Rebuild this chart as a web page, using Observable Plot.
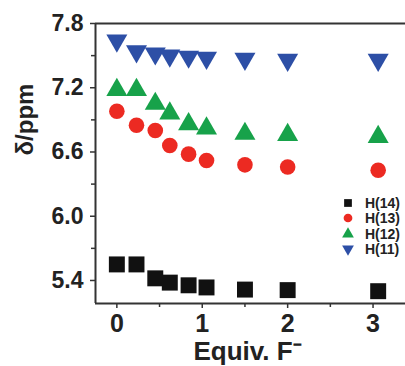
<!DOCTYPE html>
<html><head><meta charset="utf-8">
<script src="https://cdn.jsdelivr.net/npm/d3@7"></script>
<script src="https://cdn.jsdelivr.net/npm/@observablehq/plot@0.6"></script>
<style>
html,body{margin:0;padding:0;background:#fff;}
#wrap{position:relative;width:405px;height:366px;overflow:hidden;}
#legend{position:absolute;left:341px;top:195px;font-family:"Liberation Sans",Arial,sans-serif;font-weight:bold;font-size:14px;color:#222;}
#legend div{height:15.5px;display:flex;align-items:center;}
#legend svg{width:14px;height:14px;margin-right:10px;}
</style></head>
<body><div id="wrap"><div id="chart"></div><div id="legend"></div></div>
<script>
const equiv = [0, 0.23, 0.45, 0.62, 0.84, 1.05, 1.5, 2.0, 3.06];
const h14 = [5.55, 5.55, 5.42, 5.38, 5.355, 5.335, 5.315, 5.31, 5.30];
const h13 = [6.98, 6.85, 6.80, 6.66, 6.58, 6.52, 6.48, 6.46, 6.43];
const h12 = [7.18, 7.18, 7.05, 6.96, 6.86, 6.82, 6.77, 6.76, 6.74];
const h11 = [7.64, 7.54, 7.52, 7.50, 7.49, 7.48, 7.47, 7.46, 7.46];
const seriesNames = ["H(14)", "H(13)", "H(12)", "H(11)"];
const seriesColors = ["#111111", "#ec2a22", "#17a24a", "#2d4fa6"];
const xMajor = [0, 1, 2, 3];
const xMinor = [0.5, 1.5, 2.5];
const yMajor = [5.4, 6.0, 6.6, 7.2, 7.8];
const yMinor = [5.7, 6.3, 6.9, 7.5];
const xDomain = [-0.25, 3.38];
const yDomain = [5.185, 7.8];

const mk = (vals) => equiv.map((x, i) => ({x, y: vals[i]}));
const d14 = mk(h14), d13 = mk(h13), d12 = mk(h12), d11 = mk(h11);
const axisColor = "#333";

const chart = Plot.plot({
  width: 405, height: 366,
  marginLeft: 95, marginRight: 0, marginTop: 23, marginBottom: 63,
  x: {domain: xDomain},
  y: {domain: yDomain},
  style: {fontFamily: "Liberation Sans, Arial, sans-serif", fontWeight: "bold", fontSize: "23px", color: "#222", background: "#fff"},
  marks: [
    Plot.axisX({ticks: xMajor, tickFormat: d => d, tickSize: 5, tickPadding: 6, fontSize: 25, strokeWidth: 1.5, stroke: axisColor, label: null}),
    Plot.axisX({ticks: xMinor, tickFormat: () => "", tickSize: 4, strokeWidth: 1.5, stroke: axisColor, label: null}),
    Plot.axisY({ticks: yMajor, tickFormat: d => d.toFixed(1), tickSize: 5, tickPadding: 7, fontSize: 23, strokeWidth: 1.5, stroke: axisColor, label: null}),
    Plot.axisY({ticks: yMinor, tickFormat: () => "", tickSize: 4, strokeWidth: 1.5, stroke: axisColor, label: null}),
    Plot.ruleX([xDomain[0]], {stroke: axisColor, strokeWidth: 2}),
    Plot.ruleY([yDomain[0]], {stroke: axisColor, strokeWidth: 2}),
    Plot.ruleY([yDomain[1]], {stroke: axisColor, strokeWidth: 2}),
    Plot.dot(d14, {x: "x", y: "y", symbol: "square", r: 9, fill: seriesColors[0], stroke: "none"}),
    Plot.dot(d13, {x: "x", y: "y", symbol: "circle", r: 7.8, fill: seriesColors[1], stroke: "none"}),
    Plot.dot(d12, {x: "x", y: "y", symbol: "triangle", r: 7.8, fill: seriesColors[2], stroke: "none"}),
    Plot.dot(d11, {x: "x", y: "y", symbol: "triangle", rotate: 180, r: 7.8, fill: seriesColors[3], stroke: "none"}),
    Plot.text(["Equiv. F⁻"], {frameAnchor: "bottom", dx: -3, dy: 38, lineAnchor: "top", fontSize: 26, fontWeight: "bold", fill: "#222"}),
    Plot.text(["δ/ppm"], {frameAnchor: "left", dx: -70, dy: -8, rotate: -90, lineAnchor: "middle", fontSize: 24, fontWeight: "bold", fill: "#222"})
  ]
});
document.getElementById("chart").appendChild(chart);

// legend
const symbols = [d3.symbolSquare, d3.symbolCircle, d3.symbolTriangle, d3.symbolTriangle];
const rot = [0, 0, 0, 180];
const leg = document.getElementById("legend");
seriesNames.forEach((name, i) => {
  const row = document.createElement("div");
  const path = d3.symbol(symbols[i], 60)();
  row.innerHTML = `<svg viewBox="-7 -7 14 14"><path d="${path}" fill="${seriesColors[i]}" transform="rotate(${rot[i]})"/></svg><span>${name}</span>`;
  leg.appendChild(row);
});
</script></body></html>
